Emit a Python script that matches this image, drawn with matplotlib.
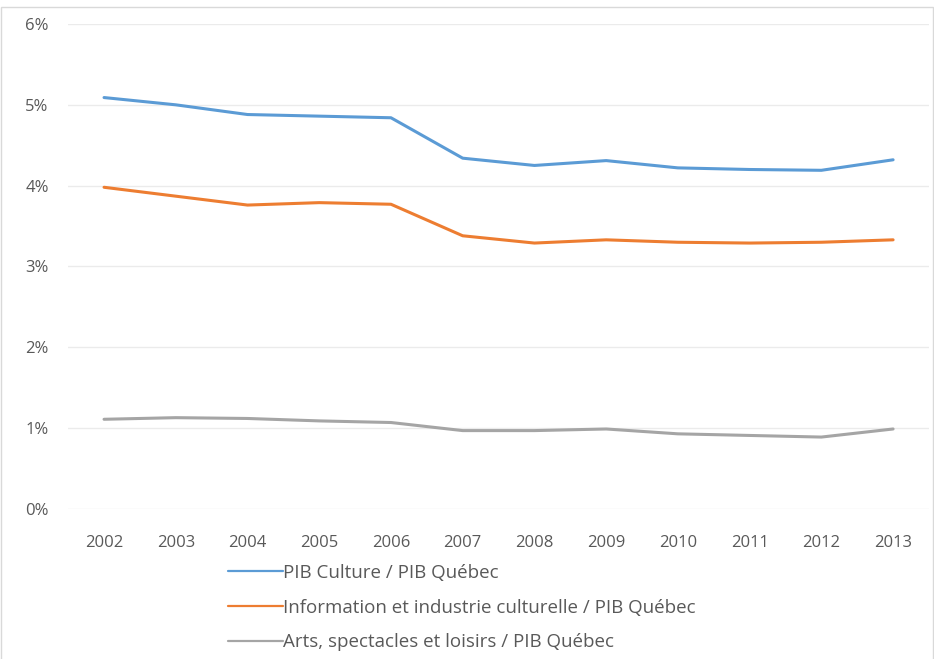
import matplotlib.pyplot as plt
from matplotlib.patches import Rectangle
from matplotlib.ticker import FuncFormatter

plt.rcParams['font.family'] = ['Open Sans', 'DejaVu Sans']

# ── data ──────────────────────────────────────────────────────────────────────
years = ['2002', '2003', '2004', '2005', '2006', '2007',
         '2008', '2009', '2010', '2011', '2012', '2013']
culture = [5.09, 5.00, 4.88, 4.86, 4.84, 4.34, 4.25, 4.31, 4.22, 4.20, 4.19, 4.32]
info = [3.98, 3.87, 3.76, 3.79, 3.77, 3.38, 3.29, 3.33, 3.30, 3.29, 3.30, 3.33]
arts = [1.11, 1.13, 1.12, 1.09, 1.07, 0.97, 0.97, 0.99, 0.93, 0.91, 0.89, 0.99]

labels = ['PIB Culture / PIB Québec',
          'Information et industrie culturelle / PIB Québec',
          'Arts, spectacles et loisirs / PIB Québec']
colors = ['#5B9BD5', '#ED7D31', '#A5A5A5']

# ── chart ─────────────────────────────────────────────────────────────────────
fig = plt.figure(figsize=(9.34, 6.59), dpi=100)
ax = fig.add_axes([0.073, 0.2276, 0.9216, 0.736])

x = range(len(years))
for series, lab, col in zip([culture, info, arts], labels, colors):
    ax.plot(x, series, color=col, linewidth=2.2, label=lab, solid_capstyle='round')

ax.set_xlim(-0.5, len(years) - 0.5)
ax.set_ylim(0, 6)
ax.set_xticks(list(x))
ax.set_xticklabels(years)
ax.set_yticks(range(0, 7))
ax.yaxis.set_major_formatter(FuncFormatter(lambda v, _: f"{int(v)}%"))
ax.grid(True, axis='y', color='#EBEBEB', linewidth=1)
ax.set_axisbelow(True)
for s in ax.spines.values():
    s.set_visible(False)
ax.tick_params(axis='both', length=0, labelsize=12, colors='#595959')
ax.tick_params(axis='x', pad=19)
ax.tick_params(axis='y', pad=31)
for t in ax.get_yticklabels():
    t.set_horizontalalignment('left')

leg = fig.legend(loc='upper left', bbox_to_anchor=(0.2365, 0.156), frameon=False,
                 fontsize=13.5, handlelength=2.9, handletextpad=0.0,
                 labelspacing=0.9, borderaxespad=0)
for t in leg.get_texts():
    t.set_color('#595959')
for h in leg.get_lines():
    h.set_linewidth(1.6)

# light chart-area border
fig.patches.append(Rectangle((0.001, -0.01), 0.998, 1.0, transform=fig.transFigure,
                             fill=False, edgecolor='#D9D9D9', linewidth=1))

plt.savefig('out.png', dpi=100)
